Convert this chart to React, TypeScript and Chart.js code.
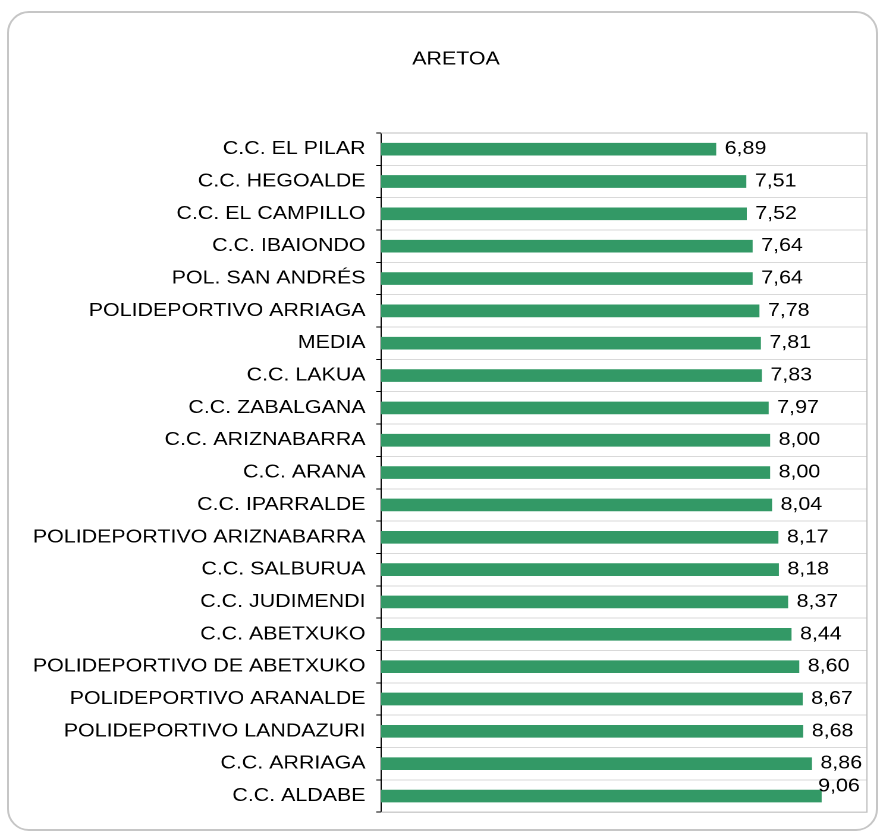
import React, { useEffect, useRef } from "react";
import { Chart, registerables } from "chart.js";

Chart.register(...registerables);

const TITLE = "ARETOA";

const categories: string[] = [
  "C.C. EL PILAR",
  "C.C. HEGOALDE",
  "C.C. EL CAMPILLO",
  "C.C. IBAIONDO",
  "POL. SAN ANDRÉS",
  "POLIDEPORTIVO ARRIAGA",
  "MEDIA",
  "C.C. LAKUA",
  "C.C. ZABALGANA",
  "C.C. ARIZNABARRA",
  "C.C. ARANA",
  "C.C. IPARRALDE",
  "POLIDEPORTIVO ARIZNABARRA",
  "C.C. SALBURUA",
  "C.C. JUDIMENDI",
  "C.C. ABETXUKO",
  "POLIDEPORTIVO DE ABETXUKO",
  "POLIDEPORTIVO ARANALDE",
  "POLIDEPORTIVO LANDAZURI",
  "C.C. ARRIAGA",
  "C.C. ALDABE",
];

const values: number[] = [
  6.89, 7.51, 7.52, 7.64, 7.64, 7.78, 7.81, 7.83, 7.97, 8.0, 8.0, 8.04, 8.17,
  8.18, 8.37, 8.44, 8.6, 8.67, 8.68, 8.86, 9.06,
];

const X_MIN = 0;
const X_MAX = 10;

const BAR_COLOR = "#339966";
const FONT = '"Liberation Sans", Arial, Helvetica, sans-serif';

// internal drawing width; the canvas is displayed horizontally stretched to 880px
const W = 740;
const H = 832;
const SX = 880 / W;

export default function App() {
  const ref = useRef<HTMLCanvasElement>(null);

  useEffect(() => {
    const canvas = ref.current;
    if (!canvas) return;

    const titlePlugin = {
      id: "titleText",
      afterDraw(chart: any) {
        const { ctx } = chart;
        ctx.save();
        ctx.fillStyle = "#000";
        ctx.font = `18px ${FONT}`;
        ctx.textAlign = "center";
        ctx.textBaseline = "middle";
        ctx.fillText(TITLE, 456 / SX, 59.5);
        ctx.restore();
      },
    };

    const framePlugin = {
      id: "plotFrame",
      beforeDatasetsDraw(chart: any) {
        const { ctx, chartArea: a } = chart;
        ctx.save();
        ctx.strokeStyle = "#bfbfbf";
        ctx.lineWidth = 1;
        ctx.beginPath();
        ctx.moveTo(a.left, a.top);
        ctx.lineTo(a.right, a.top);
        ctx.lineTo(a.right, a.bottom);
        ctx.lineTo(a.left, a.bottom);
        ctx.stroke();
        ctx.restore();
      },
    };

    const labelPlugin = {
      id: "valueLabels",
      afterDatasetsDraw(chart: any) {
        const { ctx, chartArea: a } = chart;
        const meta = chart.getDatasetMeta(0);
        ctx.save();
        ctx.fillStyle = "#000";
        ctx.font = `18px ${FONT}`;
        ctx.textBaseline = "middle";
        meta.data.forEach((bar: any, i: number) => {
          const txt = values[i].toFixed(2).replace(".", ",");
          const w = ctx.measureText(txt).width;
          let x = bar.x + 7.5;
          let y = bar.y;
          if (x + w > a.right - 2) {
            ctx.textAlign = "right";
            x = a.right - 6;
            y = bar.y - 9.5;
          } else {
            ctx.textAlign = "left";
          }
          ctx.fillText(txt, x, y);
        });
        ctx.restore();
      },
    };

    const chart = new Chart(canvas, {
      type: "bar",
      data: {
        labels: categories,
        datasets: [
          {
            data: values,
            backgroundColor: BAR_COLOR,
            borderWidth: 0,
            barThickness: 12,
          },
        ],
      },
      options: {
        indexAxis: "y",
        animation: false,
        responsive: false,
        devicePixelRatio: 2,
        layout: { padding: { top: 133, right: 11, bottom: 14, left: 0 } },
        plugins: {
          legend: { display: false },
          tooltip: { enabled: false },
          title: { display: false },
        },
        scales: {
          x: { display: false, min: X_MIN, max: X_MAX },
          y: {
            afterFit: (s: any) => {
              s.width = 381 / SX;
            },
            grid: {
              color: "#d9d9d9",
              tickColor: "#000",
              tickLength: 4,
              offset: true,
              lineWidth: 1,
            },
            border: { color: "#000", width: 1 },
            ticks: {
              color: "#000",
              font: { family: FONT, size: 18 },
              padding: 9,
              autoSkip: false,
            },
          },
        },
      },
      plugins: [framePlugin, labelPlugin, titlePlugin],
    } as any);

    return () => {
      chart.destroy();
    };
  }, []);

  return (
    <div
      style={{
        position: "absolute",
        left: 0,
        top: 0,
        width: 880,
        height: 832,
        background: "#fff",
        overflow: "hidden",
      }}
    >
      <div
        style={{
          position: "absolute",
          left: 7,
          top: 11,
          width: 871,
          height: 820,
          border: "2px solid #c6c6c6",
          borderRadius: 22,
          boxSizing: "border-box",
        }}
      />
      <canvas
        ref={ref}
        width={W}
        height={H}
        style={{
          position: "absolute",
          left: 0,
          top: 0,
          width: "880px",
          height: "832px",
          display: "block",
        }}
      />
    </div>
  );
}
